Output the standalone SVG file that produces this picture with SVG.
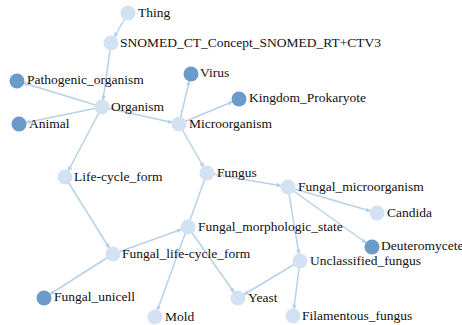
<svg xmlns="http://www.w3.org/2000/svg" width="462" height="325" viewBox="0 0 462 325">
<style>
.bg{fill:#ffffff}
.edge{stroke:#b7d1e9;stroke-width:1.5;fill:none;marker-end:url(#arr)}
.light{fill:#d3e2f2}
.dark{fill:#6a9bcb}
.lbl{font-family:'Liberation Serif','Times New Roman',serif;font-size:13.5px;fill:#111}
</style>
<defs>
<marker id="arr" markerUnits="userSpaceOnUse" markerWidth="30" markerHeight="30" viewBox="-20 -10 40 20" refX="15" refY="0" orient="auto" style="overflow:visible">
<path d="M0,-3 L7,0 L0,3 Z" fill="#b7d1e9"/>
</marker>
</defs>
<rect class="bg" x="0" y="0" width="462" height="325"/>
<g id="connectors">
<line class="edge" x1="128" y1="13" x2="111" y2="43"/>
<line class="edge" x1="111" y1="43" x2="102" y2="107"/>
<line class="edge" x1="102" y1="107" x2="17" y2="81"/>
<line class="edge" x1="102" y1="107" x2="19" y2="124"/>
<line class="edge" x1="102" y1="107" x2="179" y2="124"/>
<line class="edge" x1="102" y1="107" x2="65" y2="177"/>
<line class="edge" x1="179" y1="124" x2="191" y2="74"/>
<line class="edge" x1="179" y1="124" x2="239" y2="99"/>
<line class="edge" x1="179" y1="124" x2="207" y2="173"/>
<line class="edge" x1="207" y1="173" x2="288" y2="187"/>
<line class="edge" x1="207" y1="173" x2="155" y2="317"/>
<line class="edge" x1="65" y1="177" x2="113" y2="254"/>
<line class="edge" x1="113" y1="254" x2="188" y2="227"/>
<line class="edge" x1="113" y1="254" x2="44" y2="298"/>
<line class="edge" x1="188" y1="227" x2="238" y2="298"/>
<line class="edge" x1="288" y1="187" x2="377" y2="213"/>
<line class="edge" x1="288" y1="187" x2="372" y2="247"/>
<line class="edge" x1="288" y1="187" x2="300" y2="261"/>
<line class="edge" x1="300" y1="261" x2="238" y2="298"/>
<line class="edge" x1="300" y1="261" x2="293" y2="316"/>
</g>
<g id="nodes">
<g id="n-thing"><circle class="light" cx="128" cy="13" r="7.5"/><text class="lbl" x="138" y="17">Thing</text></g>
<g id="n-snomed"><circle class="light" cx="111" cy="43" r="7.5"/><text class="lbl" x="120" y="47">SNOMED_CT_Concept_SNOMED_RT+CTV3</text></g>
<g id="n-pathogenic"><circle class="dark" cx="17" cy="81" r="7.5"/><text class="lbl" x="27" y="84">Pathogenic_organism</text></g>
<g id="n-organism"><circle class="light" cx="102" cy="107" r="7.5"/><text class="lbl" x="111" y="111">Organism</text></g>
<g id="n-animal"><circle class="dark" cx="19" cy="124" r="7.5"/><text class="lbl" x="29" y="128">Animal</text></g>
<g id="n-virus"><circle class="dark" cx="191" cy="74" r="7.5"/><text class="lbl" x="200" y="77">Virus</text></g>
<g id="n-kingdom"><circle class="dark" cx="239" cy="99" r="7.5"/><text class="lbl" x="249" y="102">Kingdom_Prokaryote</text></g>
<g id="n-micro"><circle class="light" cx="179" cy="124" r="7.5"/><text class="lbl" x="189" y="128">Microorganism</text></g>
<g id="n-lifecycle"><circle class="light" cx="65" cy="177" r="7.5"/><text class="lbl" x="74" y="181">Life-cycle_form</text></g>
<g id="n-fungus"><circle class="light" cx="207" cy="173" r="7.5"/><text class="lbl" x="217" y="177">Fungus</text></g>
<g id="n-fungalmicro"><circle class="light" cx="288" cy="187" r="7.5"/><text class="lbl" x="298" y="191">Fungal_microorganism</text></g>
<g id="n-fms"><circle class="light" cx="188" cy="227" r="7.5"/><text class="lbl" x="198" y="231">Fungal_morphologic_state</text></g>
<g id="n-candida"><circle class="light" cx="377" cy="213" r="7.5"/><text class="lbl" x="387" y="217">Candida</text></g>
<g id="n-deutero"><circle class="dark" cx="372" cy="247" r="7.5"/><text class="lbl" x="381" y="250">Deuteromycetes</text></g>
<g id="n-unclassified"><circle class="light" cx="300" cy="261" r="7.5"/><text class="lbl" x="310" y="265">Unclassified_fungus</text></g>
<g id="n-flcf"><circle class="light" cx="113" cy="254" r="7.5"/><text class="lbl" x="122" y="258">Fungal_life-cycle_form</text></g>
<g id="n-unicell"><circle class="dark" cx="44" cy="298" r="7.5"/><text class="lbl" x="54" y="301">Fungal_unicell</text></g>
<g id="n-mold"><circle class="light" cx="155" cy="317" r="7.5"/><text class="lbl" x="165" y="321">Mold</text></g>
<g id="n-yeast"><circle class="light" cx="238" cy="298" r="7.5"/><text class="lbl" x="248" y="302">Yeast</text></g>
<g id="n-filamentous"><circle class="light" cx="293" cy="316" r="7.5"/><text class="lbl" x="302" y="320">Filamentous_fungus</text></g>
</g>
</svg>
